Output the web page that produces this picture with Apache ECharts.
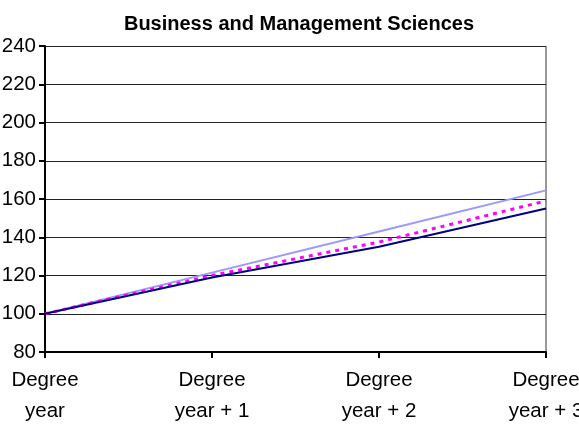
<!DOCTYPE html>
<html>
<head>
<meta charset="utf-8">
<script src="https://cdn.jsdelivr.net/npm/echarts@6/dist/echarts.min.js"></script>
<style>
  html, body { margin: 0; padding: 0; background: #fff; }
  #chart { width: 579px; height: 428px; }
</style>
</head>
<body>
<div id="chart"></div>
<script>
// 数据
const categories = ['Degree\nyear', 'Degree\nyear + 1', 'Degree\nyear + 2', 'Degree\nyear + 3'];
const lightSeries = [100, 121.5, 143, 164.5];
const dottedSeries = [100, 120, 137.5, 159];
const darkSeries = [100, 119, 135, 155];

const chart = echarts.init(document.getElementById('chart'));
const option = {
    animation: false,
    title: {
        text: 'Business and Management Sciences',
        left: 294,
        textAlign: 'center',
        top: 9,
        textStyle: { fontFamily: 'Arial, Liberation Sans', fontSize: 20, fontWeight: 'bold', color: '#000' }
    },
    grid: { left: 45, right: 33, top: 46, bottom: 76, containLabel: false, outerBoundsMode: 'none' },
    xAxis: {
        type: 'category',
        data: categories,
        boundaryGap: false,
        axisLine: { lineStyle: { color: '#000', width: 2 } },
        axisTick: { show: true, length: 6, lineStyle: { color: '#000', width: 2 } },
        axisLabel: {
            fontFamily: 'Arial, Liberation Sans', fontSize: 20.5, color: '#000',
            lineHeight: 31, margin: 13, interval: 0
        },
        splitLine: { show: false }
    },
    yAxis: {
        type: 'value',
        min: 80,
        max: 240,
        interval: 20,
        axisLine: { show: true, lineStyle: { color: '#000', width: 2 } },
        axisTick: { show: true, length: 6, lineStyle: { color: '#000', width: 2 } },
        axisLabel: { fontFamily: 'Arial, Liberation Sans', fontSize: 20.5, color: '#000', margin: 9 },
        splitLine: { lineStyle: { color: '#222', width: 1 } }
    },
    series: [
        {
            name: 'light',
            type: 'line',
            data: lightSeries,
            symbol: 'none',
            lineStyle: { color: '#9999FF', width: 2 }
        },
        {
            name: 'dotted',
            type: 'line',
            data: dottedSeries,
            symbol: 'none',
            lineStyle: { color: '#FF00FF', width: 3, type: [4, 5] }
        },
        {
            name: 'dark',
            type: 'line',
            data: darkSeries,
            symbol: 'none',
            lineStyle: { color: '#000080', width: 2 }
        }
    ],
    graphic: [
        {
            type: 'line',
            shape: { x1: 546, y1: 46, x2: 546, y2: 352 },
            style: { stroke: '#999', lineWidth: 2 },
            z: 0
        }
    ]
};
chart.setOption(option);
</script>
</body>
</html>
